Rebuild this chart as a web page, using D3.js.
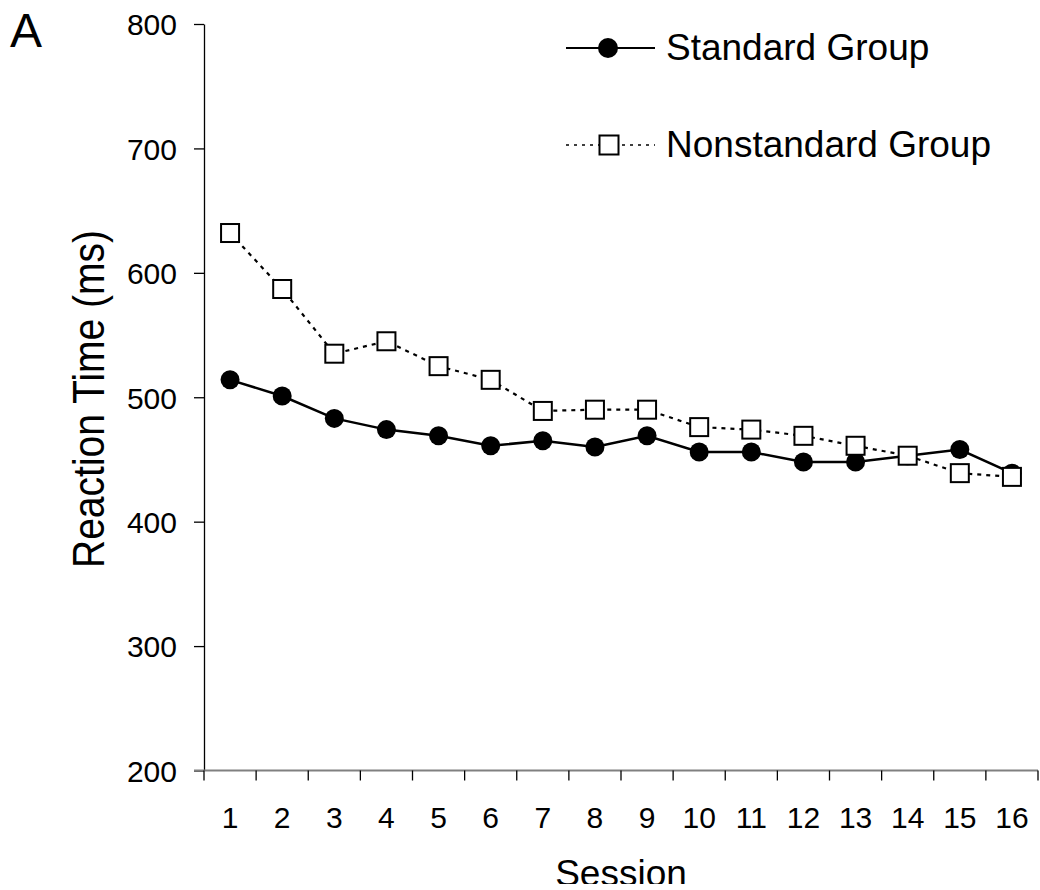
<!DOCTYPE html>
<html lang="en">
<head>
  <meta charset="UTF-8">
  <title>Reaction Time by Session</title>
  <script src="https://d3js.org/d3.v7.min.js"></script>
  <style>
    body { margin: 0; background: #fff; }
    svg { display: block; overflow: hidden; }
    text { font-family: "Liberation Sans", Arial, sans-serif; fill: #000; }
  </style>
</head>
<body>
  <svg width="1040" height="884"></svg>
  <script>
    const sessions = d3.range(1, 17).map(String);
    const standard = [514, 501, 483, 474, 469, 461, 465, 460, 469, 456, 456, 448, 448, 453, 458, 439];
    const nonstandard = [632, 587, 535, 545, 525, 514, 489, 490, 490, 476, 474, 469, 461, 453, 439, 436];
    const yTicks = [200, 300, 400, 500, 600, 700, 800];

    const svg = d3.select("svg");
    const plotLeft = 204, plotRight = 1038, plotTop = 24, plotBottom = 770.5;

    const x = d3.scaleBand().domain(sessions).range([plotLeft, plotRight]);
    const y = d3.scaleLinear().domain([200, 800]).range([plotBottom, plotTop]);
    const cx = d => x(d) + x.bandwidth() / 2;

    // y axis
    const yAxis = svg.append("g")
      .attr("transform", `translate(${plotLeft},0)`)
      .call(d3.axisLeft(y).tickValues(yTicks).tickSize(10).tickPadding(17).tickSizeOuter(0));
    yAxis.select(".domain").attr("stroke", "#000").attr("stroke-width", 1.3);
    yAxis.selectAll(".tick line").attr("stroke", "#000").attr("stroke-width", 1.3);
    yAxis.selectAll(".tick text")
      .attr("font-size", 30)
      .attr("font-family", "'Liberation Sans', Arial, sans-serif")
      .attr("dy", "0.36em");

    // x axis: ticks on band edges
    const edges = sessions.map(s => x(s)).concat([plotRight]);
    const xg = svg.append("g");
    xg.append("line")
      .attr("x1", plotLeft - 10).attr("x2", plotRight)
      .attr("y1", plotBottom).attr("y2", plotBottom)
      .attr("stroke", "#808080").attr("stroke-width", 2);
    xg.selectAll("line.tk").data(edges).enter().append("line")
      .attr("class", "tk")
      .attr("x1", d => d).attr("x2", d => d)
      .attr("y1", plotBottom).attr("y2", plotBottom + 10)
      .attr("stroke", "#000").attr("stroke-width", 1.3);
    xg.selectAll("text").data(sessions).enter().append("text")
      .attr("x", d => cx(d))
      .attr("y", 828)
      .attr("text-anchor", "middle")
      .attr("font-size", 30)
      .text(d => d);

    // titles
    svg.append("text")
      .attr("x", 621).attr("y", 886)
      .attr("text-anchor", "middle")
      .attr("font-size", 37)
      .text("Session");

    svg.append("text")
      .attr("transform", "translate(104,399) rotate(-90) scale(1,1.12)")
      .attr("text-anchor", "middle")
      .attr("font-size", 39)
      .text("Reaction Time (ms)");

    svg.append("text")
      .attr("x", 10).attr("y", 47)
      .attr("font-size", 48)
      .text("A");

    // standard group
    const line = d3.line().x((d, i) => cx(sessions[i])).y(d => y(d));
    svg.append("path")
      .datum(standard)
      .attr("d", line)
      .attr("fill", "none")
      .attr("stroke", "#000")
      .attr("stroke-width", 2.5);
    svg.append("g").selectAll("circle").data(standard).enter().append("circle")
      .attr("cx", (d, i) => cx(sessions[i]))
      .attr("cy", d => y(d))
      .attr("r", 9.5)
      .attr("fill", "#000");

    // nonstandard group
    svg.append("path")
      .datum(nonstandard)
      .attr("d", line)
      .attr("fill", "none")
      .attr("stroke", "#000")
      .attr("stroke-width", 2.2)
      .attr("stroke-dasharray", "4,5");
    const sq = 18;
    svg.append("g").selectAll("rect").data(nonstandard).enter().append("rect")
      .attr("x", (d, i) => cx(sessions[i]) - sq / 2)
      .attr("y", d => y(d) - sq / 2)
      .attr("width", sq).attr("height", sq)
      .attr("fill", "#fff")
      .attr("stroke", "#000")
      .attr("stroke-width", 2);

    // legend
    const lg = svg.append("g");
    lg.append("line")
      .attr("x1", 566).attr("x2", 655).attr("y1", 48).attr("y2", 48)
      .attr("stroke", "#000").attr("stroke-width", 2);
    lg.append("circle").attr("cx", 608).attr("cy", 48).attr("r", 10).attr("fill", "#000");
    lg.append("text").attr("x", 666).attr("y", 59.5).attr("font-size", 37).text("Standard Group");

    lg.append("line")
      .attr("x1", 566).attr("x2", 655).attr("y1", 145).attr("y2", 145)
      .attr("stroke", "#000").attr("stroke-width", 1.5)
      .attr("stroke-dasharray", "3,5");
    lg.append("rect")
      .attr("x", 609 - 9.5).attr("y", 145 - 9.5).attr("width", 19).attr("height", 19)
      .attr("fill", "#fff").attr("stroke", "#000").attr("stroke-width", 2);
    lg.append("text").attr("x", 666).attr("y", 157).attr("font-size", 37).text("Nonstandard Group");
  </script>
</body>
</html>
